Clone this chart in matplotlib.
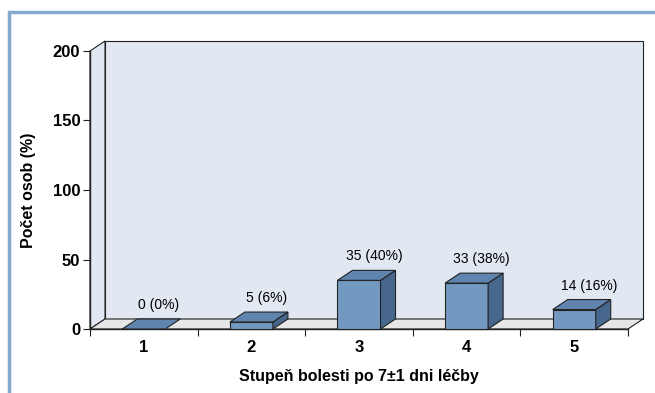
import numpy as np
import matplotlib.pyplot as plt
from matplotlib.patches import Polygon, Rectangle

plt.rcParams['font.family'] = ['Liberation Sans', 'DejaVu Sans']

categories = ["1", "2", "3", "4", "5"]
counts = [0, 5, 35, 33, 14]
percents = [0, 6, 40, 38, 16]
y_ticks = [0, 50, 100, 150, 200]

W, H = 655, 393
fig = plt.figure(figsize=(W / 100, H / 100), dpi=100)

# axes placed in pixel terms
left, right, top, bottom = 90, 628, 51, 329
ax = fig.add_axes([left / W, 1 - bottom / H, (right - left) / W, (bottom - top) / H])
ax.set_xlim(0.5, 5.5)
ax.set_ylim(0, 200)
ax.patch.set_visible(False)

# depth offset in data units
px_x = (right - left) / 5.0
px_y = (bottom - top) / 200.0
dx = 15 / px_x
dy = 10 / px_y

edge = "#222222"
wall_c = "#e1e8f1"
floor_c = "#e6e6e6"
front_c = "#7399c1"
top_c = "#5f84ad"
side_c = "#48678c"

def poly(pts, fc, lw=0.8, z=1):
    ax.add_patch(Polygon(pts, closed=True, facecolor=fc, edgecolor=edge,
                         linewidth=lw, clip_on=False, zorder=z))

# back wall, left wall, floor
poly([(0.5 + dx, dy), (5.5 + dx, dy), (5.5 + dx, 200 + dy), (0.5 + dx, 200 + dy)], wall_c, z=0)
poly([(0.5, 0), (0.5 + dx, dy), (0.5 + dx, 200 + dy), (0.5, 200)], wall_c, z=0)
poly([(0.5, 0), (5.5, 0), (5.5 + dx, dy), (0.5 + dx, dy)], floor_c, z=0)

# bars
bw = 0.2
for i, (c, p) in enumerate(zip(counts, percents)):
    x = i + 1
    if c > 0:
        poly([(x - bw, 0), (x + bw, 0), (x + bw, c), (x - bw, c)], front_c, z=3)
        poly([(x + bw, 0), (x + bw + dx, dy), (x + bw + dx, c + dy), (x + bw, c)], side_c, z=3)
    poly([(x - bw, c), (x + bw, c), (x + bw + dx, c + dy), (x - bw + dx, c + dy)], top_c, z=3)
    ax.annotate(f"{c} ({p}%)", (x + dx, c + dy), xytext=(0, 5),
                textcoords="offset points", ha="center", va="bottom",
                fontsize=10, zorder=4)

for s in ["top", "right"]:
    ax.spines[s].set_visible(False)
for s in ["left", "bottom"]:
    ax.spines[s].set_color(edge)
    ax.spines[s].set_linewidth(1.0)

ax.set_yticks(y_ticks)
ax.set_yticklabels([str(t) for t in y_ticks], fontsize=12, fontweight="bold")
ax.set_xticks(np.arange(1.5, 5.5, 1.0) - 1.0, minor=False)
ax.set_xticks(np.arange(1, 6))
ax.set_xticklabels(categories, fontsize=12, fontweight="bold")
ax.set_xticks(np.arange(0.5, 6.0, 1.0), minor=True)
ax.tick_params(axis="x", which="major", length=0, pad=8)
ax.tick_params(axis="x", which="minor", length=5, width=0.8, color=edge)
ax.tick_params(axis="y", length=5, width=0.8, color=edge, pad=2)

ax.set_xlabel("Stupeň bolesti po 7±1 dni léčby", fontsize=11.5, fontweight="bold", labelpad=10)
ax.set_ylabel("Počet osob (%)", fontsize=11.5, fontweight="bold", labelpad=12)

# blue frame around the chart area
fig.add_artist(Rectangle((9 / W, -0.2), 1.2, 1 - 12 / H + 0.2, transform=fig.transFigure,
                         fill=False, edgecolor="#85a9cf", linewidth=2.5))

fig.savefig("out.png", dpi=100)
